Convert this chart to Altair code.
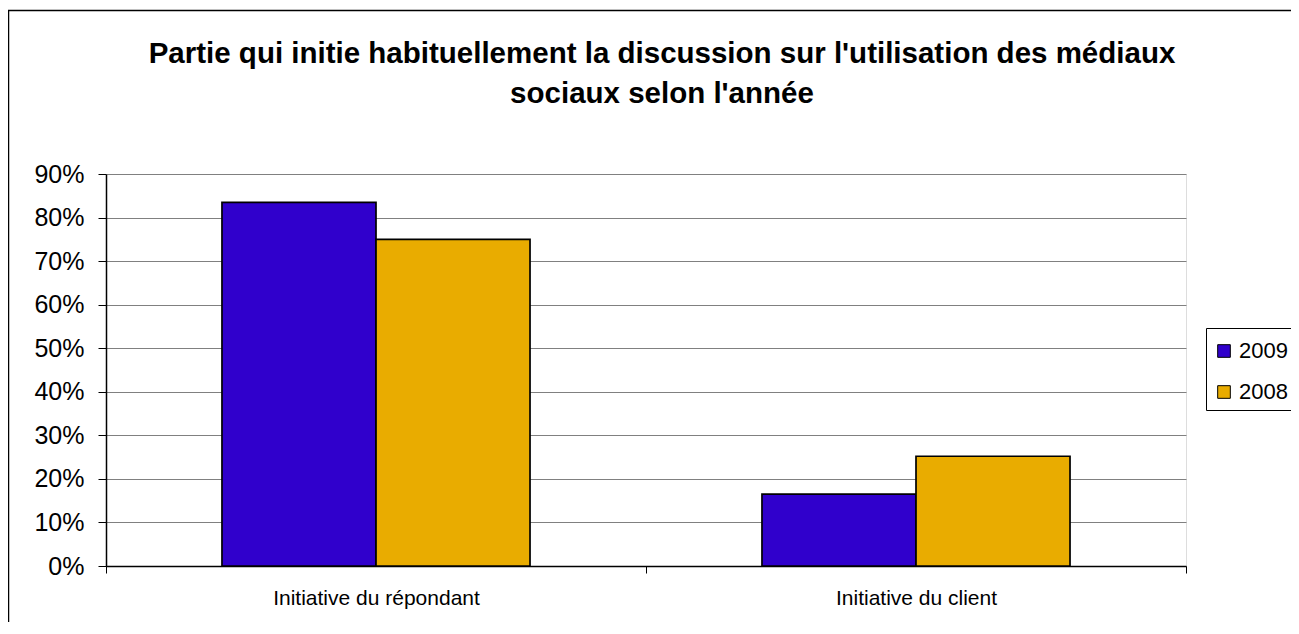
import altair as alt
import pandas as pd

categories = ["Initiative du répondant", "Initiative du client"]
years = ["2009", "2008"]
values_2009 = [0.835, 0.165]
values_2008 = [0.75, 0.252]

rows = []
for i, c in enumerate(categories):
    rows.append({"cat": c, "year": "2009", "val": values_2009[i]})
    rows.append({"cat": c, "year": "2008", "val": values_2008[i]})
df = pd.DataFrame(rows)

FONT = "Liberation Sans"

bars = alt.Chart(df).mark_bar(stroke="black", strokeWidth=1.7).encode(
    x=alt.X("cat:N", sort=categories, title=None,
            scale=alt.Scale(paddingInner=0, paddingOuter=0),
            axis=alt.Axis(labelAngle=0, labelFontSize=21, labelFont=FONT, labelColor="black",
                          labelLimit=500,
                          tickBand="extent", tickSize=7, tickColor="black",
                          domainColor="black", domainWidth=1.5, labelPadding=14, grid=False)),
    xOffset=alt.XOffset("year:N", sort=years,
                        scale=alt.Scale(paddingInner=0, paddingOuter=0.753)),
    y=alt.Y("val:Q", title=None,
            scale=alt.Scale(domain=[0, 0.9], nice=False),
            axis=alt.Axis(format=".0%", values=[i / 10 for i in range(10)],
                          labelFontSize=25, labelFont=FONT, labelColor="black",
                          tickSize=8, tickColor="black", domainColor="black", domainWidth=1.5,
                          labelPadding=14, gridColor="#808080", gridWidth=1)),
    color=alt.Color("year:N", sort=years,
                    scale=alt.Scale(domain=years, range=["#3000CC", "#E9AC00"]),
                    legend=alt.Legend(title=" ", titleFontSize=1, titlePadding=4,
                                      orient="none", legendX=1100, legendY=154,
                                      strokeColor="black", fillColor="white", padding=7,
                                      symbolType="square", symbolSize=160,
                                      symbolStrokeColor="black", symbolStrokeWidth=1,
                                      labelFontSize=22, labelFont=FONT, labelColor="black",
                                      labelOffset=4, rowPadding=19)),
)

frame = alt.Chart(pd.DataFrame({"a": [0]})).mark_rect(
    fill=None, stroke="black", strokeWidth=1.5
).encode(
    x=alt.value(-97.5), x2=alt.value(1300),
    y=alt.value(-163.5), y2=alt.value(600),
)

chart = alt.layer(frame, bars).properties(
    width=1080, height=392,
    title=alt.TitleParams(
        ["Partie qui initie habituellement la discussion sur l'utilisation des médiaux",
         "sociaux selon l'année"],
        fontSize=29.5, font=FONT, fontWeight="bold", color="black",
        anchor="middle", frame="group", dx=16, baseline="top",
        offset=-100, lineHeight=40),
    autosize=alt.AutoSizeParams(type="none"),
    padding={"left": 98, "top": 166, "right": 105, "bottom": 56},
).configure_view(
    fill="#C0C0C0", stroke="#808080", strokeWidth=1
).configure(background="white")

chart.save("out.html", embed_options={"renderer": "svg", "actions": False})
